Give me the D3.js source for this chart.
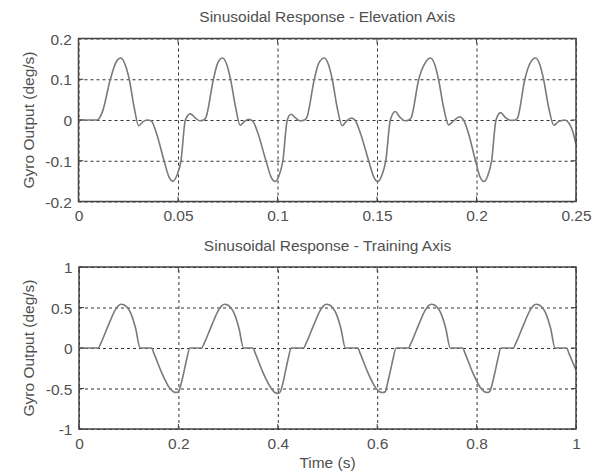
<!DOCTYPE html>
<html><head><meta charset="utf-8">
<script src="https://cdn.jsdelivr.net/npm/d3@7"></script>
<style>
body{margin:0;background:#fff;}
text{font-family:"Liberation Sans",Arial,Helvetica,sans-serif;fill:#505050;}
</style>
</head><body>
<svg id="chart" width="602" height="476"></svg>
<script>
// ---- Data ----
const elevTime = [
 0, 0.0093, 0.012, 0.016, 0.019, 0.0213, 0.0235, 0.0255, 0.028, 0.0302, 0.0325, 0.0344, 0.0365, 0.039, 0.043, 0.0455, 0.0475, 0.0495, 0.0515, 0.0537, 0.0562, 0.0585, 0.061, 0.0628,
 0.064, 0.0678, 0.070, 0.0724, 0.0745, 0.0764, 0.079, 0.0812, 0.0835, 0.0855, 0.0876, 0.090, 0.0942, 0.0968, 0.0988, 0.1008, 0.1027, 0.1049, 0.1068, 0.109, 0.1115, 0.1135,
 0.1147, 0.1185, 0.1208, 0.1236, 0.1256, 0.1275, 0.130, 0.1325, 0.1348, 0.1372, 0.1392, 0.1415, 0.1458, 0.1484, 0.1504, 0.1524, 0.1544, 0.1567, 0.1592, 0.1615, 0.1642, 0.166,
 0.1672, 0.171, 0.1742, 0.1769, 0.179, 0.1809, 0.1835, 0.186, 0.1885, 0.1915, 0.1935, 0.1958, 0.1995, 0.2018, 0.2037, 0.2057, 0.2076, 0.2098, 0.2121, 0.2145, 0.2178, 0.2195,
 0.2207, 0.2243, 0.2270, 0.2297, 0.2318, 0.2337, 0.2363, 0.2389, 0.2412, 0.2445, 0.2465, 0.2485, 0.25
];
const elevValue = [
 0, 0, 0.02, 0.1, 0.143, 0.152, 0.135, 0.1, 0.03, -0.014, -0.004, 0, -0.002, -0.03, -0.1, -0.14, -0.15, -0.135, -0.1, 0, 0.015, 0.006, -0.002, 0,
 0.006, 0.1, 0.14, 0.152, 0.136, 0.1, 0.03, -0.013, -0.003, 0.002, -0.003, -0.03, -0.1, -0.14, -0.151, -0.136, -0.1, 0, 0.014, 0.005, -0.002, 0,
 0.006, 0.1, 0.14, 0.152, 0.136, 0.1, 0.03, -0.014, -0.002, 0.005, -0.002, -0.03, -0.1, -0.14, -0.151, -0.136, -0.1, 0, 0.021, 0.007, -0.002, 0,
 0.006, 0.1, 0.14, 0.152, 0.136, 0.1, 0.03, -0.012, -0.002, 0.008, 0, -0.03, -0.1, -0.14, -0.151, -0.136, -0.1, 0, 0.018, 0.006, -0.001, 0,
 0.006, 0.1, 0.14, 0.152, 0.136, 0.1, 0.03, -0.013, -0.004, 0, -0.008, -0.03, -0.06
];
const trainTime = [
 0, 0.039, 0.044, 0.059, 0.073, 0.079, 0.085, 0.091, 0.097, 0.104, 0.114, 0.123,
 0.146, 0.151, 0.166, 0.183, 0.190, 0.196, 0.201, 0.206, 0.212, 0.217, 0.223,
 0.247, 0.252, 0.267, 0.281, 0.287, 0.293, 0.299, 0.305, 0.312, 0.322, 0.331,
 0.350, 0.355, 0.370, 0.387, 0.394, 0.400, 0.405, 0.410, 0.416, 0.421, 0.427,
 0.452, 0.457, 0.472, 0.486, 0.492, 0.498, 0.504, 0.510, 0.517, 0.527, 0.536,
 0.561, 0.566, 0.581, 0.598, 0.605, 0.611, 0.616, 0.621, 0.627, 0.632, 0.638,
 0.663, 0.668, 0.683, 0.697, 0.703, 0.709, 0.715, 0.721, 0.728, 0.738, 0.747,
 0.772, 0.777, 0.792, 0.809, 0.816, 0.822, 0.827, 0.832, 0.838, 0.843, 0.849,
 0.874, 0.879, 0.894, 0.908, 0.914, 0.920, 0.926, 0.932, 0.939, 0.949, 0.958,
 0.981, 0.986, 1.0
];
const trainValue = [
 0, 0, 0.06, 0.28, 0.47, 0.52, 0.54, 0.53, 0.50, 0.43, 0.24, 0,
 0, -0.07, -0.30, -0.50, -0.54, -0.55, -0.53, -0.43, -0.27, -0.13, 0,
 0, 0.06, 0.28, 0.47, 0.52, 0.54, 0.53, 0.50, 0.43, 0.24, 0,
 0, -0.07, -0.30, -0.50, -0.55, -0.56, -0.54, -0.44, -0.27, -0.13, 0,
 0, 0.06, 0.28, 0.47, 0.52, 0.54, 0.53, 0.50, 0.43, 0.24, 0,
 0, -0.07, -0.30, -0.50, -0.54, -0.55, -0.54, -0.43, -0.27, -0.13, 0,
 0, 0.06, 0.28, 0.47, 0.52, 0.54, 0.53, 0.50, 0.43, 0.24, 0,
 0, -0.07, -0.30, -0.50, -0.54, -0.55, -0.53, -0.43, -0.27, -0.13, 0,
 0, 0.06, 0.28, 0.47, 0.52, 0.54, 0.53, 0.50, 0.43, 0.24, 0,
 0, -0.07, -0.27
];
const elevXTicks = [0, 0.05, 0.1, 0.15, 0.2, 0.25];
const elevXLabels = ["0", "0.05", "0.1", "0.15", "0.2", "0.25"];
const elevYTicks = [-0.2, -0.1, 0, 0.1, 0.2];
const elevYLabels = ["-0.2", "-0.1", "0", "0.1", "0.2"];
const trainXTicks = [0, 0.2, 0.4, 0.6, 0.8, 1];
const trainXLabels = ["0", "0.2", "0.4", "0.6", "0.8", "1"];
const trainYTicks = [-1, -0.5, 0, 0.5, 1];
const trainYLabels = ["-1", "-0.5", "0", "0.5", "1"];
const panelTitles = ["Sinusoidal Response - Elevation Axis", "Sinusoidal Response - Training Axis"];
const yAxisLabel = "Gyro Output (deg/s)";
const xAxisLabel = "Time (s)";

// ---- Drawing ----
const svg = d3.select("#chart");
const FS = 15.5;

function panel(cfg) {
  const {left, right, top, bottom, xDomain, yDomain, xTicks, xLabels, yTicks, yLabels, times, values, title} = cfg;
  const x = d3.scaleLinear().domain(xDomain).range([left, right]);
  const y = d3.scaleLinear().domain(yDomain).range([bottom, top]);
  const g = svg.append("g");

  // grid
  const gx = g.append("g").attr("transform", `translate(0,${bottom})`)
    .call(d3.axisBottom(x).tickValues(xTicks).tickSize(-(bottom - top)).tickFormat(""));
  const gy = g.append("g").attr("transform", `translate(${left},0)`)
    .call(d3.axisLeft(y).tickValues(yTicks).tickSize(-(right - left)).tickFormat(""));
  [gx, gy].forEach(a => {
    a.select(".domain").remove();
    a.selectAll("line").attr("stroke", "#333").attr("stroke-width", 1).attr("stroke-dasharray", "3,3");
  });

  // curve
  const pts = times.map((t, i) => [t, values[i]]);
  const line = d3.line().x(d => x(d[0])).y(d => y(d[1])).curve(d3.curveMonotoneX);
  g.append("path").datum(pts).attr("d", line).attr("fill", "none")
    .attr("stroke", "#7a7a7a").attr("stroke-width", 1.6).attr("stroke-linejoin", "round");

  // inward ticks
  const tk = g.append("g").attr("stroke", "#444").attr("stroke-width", 1);
  xTicks.forEach(v => {
    tk.append("line").attr("x1", x(v)).attr("x2", x(v)).attr("y1", bottom).attr("y2", bottom - 5);
    tk.append("line").attr("x1", x(v)).attr("x2", x(v)).attr("y1", top).attr("y2", top + 5);
  });
  yTicks.forEach(v => {
    tk.append("line").attr("x1", left).attr("x2", left + 5).attr("y1", y(v)).attr("y2", y(v));
    tk.append("line").attr("x1", right).attr("x2", right - 5).attr("y1", y(v)).attr("y2", y(v));
  });

  // frame
  g.append("rect").attr("x", left).attr("y", top).attr("width", right - left).attr("height", bottom - top)
    .attr("fill", "none").attr("stroke", "#444").attr("stroke-width", 1.5);

  // tick labels
  const lx = d3.axisBottom(x).tickValues(xTicks).tickFormat((d, i) => xLabels[i]).tickSize(0).tickPadding(0);
  const ax = g.append("g").attr("transform", `translate(0,${bottom})`).call(lx);
  ax.select(".domain").remove();
  ax.selectAll("text").attr("y", 19.5).attr("dy", null).attr("font-size", FS)
    .attr("font-family", null).attr("fill", null);
  const ly = d3.axisLeft(y).tickValues(yTicks).tickFormat((d, i) => yLabels[i]).tickSize(0).tickPadding(0);
  const ay = g.append("g").attr("transform", `translate(${left},0)`).call(ly);
  ay.select(".domain").remove();
  ay.selectAll("text").attr("x", -6.5).attr("dy", "0.36em").attr("font-size", FS)
    .attr("font-family", null).attr("fill", null);

  // title
  g.append("text").attr("x", (left + right) / 2).attr("y", top - 16.5)
    .attr("text-anchor", "middle").attr("font-size", FS).text(title);

  // y label
  g.append("text").attr("transform", `translate(33.5,${(top + bottom) / 2}) rotate(-90)`)
    .attr("text-anchor", "middle").attr("font-size", FS).text(yAxisLabel);
  return {x, y};
}

panel({left: 78.5, right: 576, top: 38.5, bottom: 201.5, xDomain: [0, 0.25], yDomain: [-0.2, 0.2],
  xTicks: elevXTicks, xLabels: elevXLabels, yTicks: elevYTicks, yLabels: elevYLabels,
  times: elevTime, values: elevValue, title: panelTitles[0]});
panel({left: 79, right: 576, top: 267, bottom: 429, xDomain: [0, 1], yDomain: [-1, 1],
  xTicks: trainXTicks, xLabels: trainXLabels, yTicks: trainYTicks, yLabels: trainYLabels,
  times: trainTime, values: trainValue, title: panelTitles[1]});

svg.append("text").attr("x", 327.5).attr("y", 468).attr("text-anchor", "middle")
  .attr("font-size", FS).text(xAxisLabel);
</script>
</body></html>
